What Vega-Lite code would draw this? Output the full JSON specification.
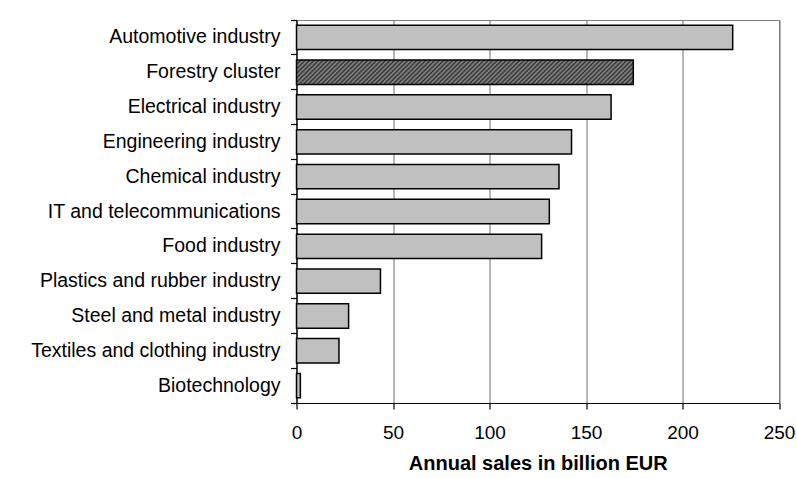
{
  "$schema": "https://vega.github.io/schema/vega-lite/v6.json",
  "autosize": "none",
  "width": 482.5,
  "height": 383,
  "padding": {"left": 296.5, "top": 20, "right": 18, "bottom": 75},
  "background": "white",
  "config": {
    "font": "Liberation Sans",
    "view": {"stroke": "#808080", "strokeWidth": 1}
  },
  "data": {
    "values": [
      {"sector": "Automotive industry", "sales": 226},
      {"sector": "Forestry cluster", "sales": 174.5},
      {"sector": "Electrical industry", "sales": 163},
      {"sector": "Engineering industry", "sales": 142.5},
      {"sector": "Chemical industry", "sales": 136},
      {"sector": "IT and telecommunications", "sales": 131},
      {"sector": "Food industry", "sales": 127},
      {"sector": "Plastics and rubber industry", "sales": 43.5},
      {"sector": "Steel and metal industry", "sales": 27},
      {"sector": "Textiles and clothing industry", "sales": 22},
      {"sector": "Biotechnology", "sales": 2}
    ]
  },
  "mark": {"type": "bar", "height": {"band": 0.7}, "stroke": "black", "strokeWidth": 1.5},
  "encoding": {
    "y": {
      "field": "sector",
      "type": "nominal",
      "sort": null,
      "scale": {"paddingInner": 0, "paddingOuter": 0},
      "axis": {
        "title": null,
        "labelFontSize": 19.5,
        "labelColor": "black",
        "labelPadding": 10.5,
        "labelLimit": 400,
        "domainColor": "black",
        "domainWidth": 1.2,
        "tickColor": "black",
        "tickWidth": 1.2,
        "tickSize": 6,
        "bandPosition": 1,
        "tickExtra": true,
        "grid": false
      }
    },
    "x": {
      "field": "sales",
      "type": "quantitative",
      "scale": {"domain": [0, 250], "nice": false},
      "axis": {
        "title": "Annual sales in billion EUR",
        "titleFontSize": 20,
        "titleFontWeight": "bold",
        "titleColor": "black",
        "titlePadding": 11,
        "values": [0, 50, 100, 150, 200, 250],
        "labelFontSize": 19,
        "labelColor": "black",
        "labelPadding": 14,
        "labelFlush": false,
        "domainColor": "black",
        "domainWidth": 1.2,
        "tickColor": "black",
        "tickWidth": 1.2,
        "tickSize": 6,
        "grid": true,
        "gridColor": "#707070",
        "gridOpacity": 1,
        "gridWidth": 1
      }
    },
    "fill": {
      "condition": {
        "test": "datum.sector === 'Forestry cluster'",
        "value": {
          "gradient": "linear",
          "x1": 0, "y1": 0, "x2": 1.1, "y2": 0.0796,
          "stops": [
            {"offset": 0, "color": "#303030"}, {"offset": 0.006, "color": "#8c8c8c"},
            {"offset": 0.012, "color": "#303030"}, {"offset": 0.018, "color": "#8c8c8c"},
            {"offset": 0.024, "color": "#303030"}, {"offset": 0.03, "color": "#8c8c8c"},
            {"offset": 0.036, "color": "#303030"}, {"offset": 0.042, "color": "#8c8c8c"},
            {"offset": 0.048, "color": "#303030"}, {"offset": 0.054, "color": "#8c8c8c"},
            {"offset": 0.06, "color": "#303030"}, {"offset": 0.066, "color": "#8c8c8c"},
            {"offset": 0.072, "color": "#303030"}, {"offset": 0.078, "color": "#8c8c8c"},
            {"offset": 0.084, "color": "#303030"}, {"offset": 0.09, "color": "#8c8c8c"},
            {"offset": 0.096, "color": "#303030"}, {"offset": 0.102, "color": "#8c8c8c"},
            {"offset": 0.108, "color": "#303030"}, {"offset": 0.114, "color": "#8c8c8c"},
            {"offset": 0.12, "color": "#303030"}, {"offset": 0.126, "color": "#8c8c8c"},
            {"offset": 0.132, "color": "#303030"}, {"offset": 0.138, "color": "#8c8c8c"},
            {"offset": 0.144, "color": "#303030"}, {"offset": 0.15, "color": "#8c8c8c"},
            {"offset": 0.156, "color": "#303030"}, {"offset": 0.162, "color": "#8c8c8c"},
            {"offset": 0.168, "color": "#303030"}, {"offset": 0.174, "color": "#8c8c8c"},
            {"offset": 0.18, "color": "#303030"}, {"offset": 0.186, "color": "#8c8c8c"},
            {"offset": 0.192, "color": "#303030"}, {"offset": 0.198, "color": "#8c8c8c"},
            {"offset": 0.204, "color": "#303030"}, {"offset": 0.21, "color": "#8c8c8c"},
            {"offset": 0.216, "color": "#303030"}, {"offset": 0.222, "color": "#8c8c8c"},
            {"offset": 0.228, "color": "#303030"}, {"offset": 0.234, "color": "#8c8c8c"},
            {"offset": 0.24, "color": "#303030"}, {"offset": 0.246, "color": "#8c8c8c"},
            {"offset": 0.252, "color": "#303030"}, {"offset": 0.258, "color": "#8c8c8c"},
            {"offset": 0.264, "color": "#303030"}, {"offset": 0.27, "color": "#8c8c8c"},
            {"offset": 0.276, "color": "#303030"}, {"offset": 0.282, "color": "#8c8c8c"},
            {"offset": 0.288, "color": "#303030"}, {"offset": 0.294, "color": "#8c8c8c"},
            {"offset": 0.3, "color": "#303030"}, {"offset": 0.306, "color": "#8c8c8c"},
            {"offset": 0.312, "color": "#303030"}, {"offset": 0.318, "color": "#8c8c8c"},
            {"offset": 0.324, "color": "#303030"}, {"offset": 0.33, "color": "#8c8c8c"},
            {"offset": 0.336, "color": "#303030"}, {"offset": 0.342, "color": "#8c8c8c"},
            {"offset": 0.348, "color": "#303030"}, {"offset": 0.354, "color": "#8c8c8c"},
            {"offset": 0.36, "color": "#303030"}, {"offset": 0.366, "color": "#8c8c8c"},
            {"offset": 0.372, "color": "#303030"}, {"offset": 0.378, "color": "#8c8c8c"},
            {"offset": 0.384, "color": "#303030"}, {"offset": 0.39, "color": "#8c8c8c"},
            {"offset": 0.396, "color": "#303030"}, {"offset": 0.402, "color": "#8c8c8c"},
            {"offset": 0.408, "color": "#303030"}, {"offset": 0.414, "color": "#8c8c8c"},
            {"offset": 0.42, "color": "#303030"}, {"offset": 0.426, "color": "#8c8c8c"},
            {"offset": 0.432, "color": "#303030"}, {"offset": 0.438, "color": "#8c8c8c"},
            {"offset": 0.444, "color": "#303030"}, {"offset": 0.45, "color": "#8c8c8c"},
            {"offset": 0.456, "color": "#303030"}, {"offset": 0.462, "color": "#8c8c8c"},
            {"offset": 0.468, "color": "#303030"}, {"offset": 0.474, "color": "#8c8c8c"},
            {"offset": 0.48, "color": "#303030"}, {"offset": 0.486, "color": "#8c8c8c"},
            {"offset": 0.492, "color": "#303030"}, {"offset": 0.498, "color": "#8c8c8c"},
            {"offset": 0.504, "color": "#303030"}, {"offset": 0.51, "color": "#8c8c8c"},
            {"offset": 0.516, "color": "#303030"}, {"offset": 0.522, "color": "#8c8c8c"},
            {"offset": 0.528, "color": "#303030"}, {"offset": 0.534, "color": "#8c8c8c"},
            {"offset": 0.54, "color": "#303030"}, {"offset": 0.546, "color": "#8c8c8c"},
            {"offset": 0.552, "color": "#303030"}, {"offset": 0.558, "color": "#8c8c8c"},
            {"offset": 0.564, "color": "#303030"}, {"offset": 0.57, "color": "#8c8c8c"},
            {"offset": 0.576, "color": "#303030"}, {"offset": 0.582, "color": "#8c8c8c"},
            {"offset": 0.588, "color": "#303030"}, {"offset": 0.594, "color": "#8c8c8c"},
            {"offset": 0.6, "color": "#303030"}, {"offset": 0.606, "color": "#8c8c8c"},
            {"offset": 0.612, "color": "#303030"}, {"offset": 0.618, "color": "#8c8c8c"},
            {"offset": 0.624, "color": "#303030"}, {"offset": 0.63, "color": "#8c8c8c"},
            {"offset": 0.636, "color": "#303030"}, {"offset": 0.642, "color": "#8c8c8c"},
            {"offset": 0.648, "color": "#303030"}, {"offset": 0.654, "color": "#8c8c8c"},
            {"offset": 0.66, "color": "#303030"}, {"offset": 0.666, "color": "#8c8c8c"},
            {"offset": 0.672, "color": "#303030"}, {"offset": 0.678, "color": "#8c8c8c"},
            {"offset": 0.684, "color": "#303030"}, {"offset": 0.69, "color": "#8c8c8c"},
            {"offset": 0.696, "color": "#303030"}, {"offset": 0.702, "color": "#8c8c8c"},
            {"offset": 0.708, "color": "#303030"}, {"offset": 0.714, "color": "#8c8c8c"},
            {"offset": 0.72, "color": "#303030"}, {"offset": 0.726, "color": "#8c8c8c"},
            {"offset": 0.732, "color": "#303030"}, {"offset": 0.738, "color": "#8c8c8c"},
            {"offset": 0.744, "color": "#303030"}, {"offset": 0.75, "color": "#8c8c8c"},
            {"offset": 0.756, "color": "#303030"}, {"offset": 0.762, "color": "#8c8c8c"},
            {"offset": 0.768, "color": "#303030"}, {"offset": 0.774, "color": "#8c8c8c"},
            {"offset": 0.78, "color": "#303030"}, {"offset": 0.786, "color": "#8c8c8c"},
            {"offset": 0.792, "color": "#303030"}, {"offset": 0.798, "color": "#8c8c8c"},
            {"offset": 0.804, "color": "#303030"}, {"offset": 0.81, "color": "#8c8c8c"},
            {"offset": 0.816, "color": "#303030"}, {"offset": 0.822, "color": "#8c8c8c"},
            {"offset": 0.828, "color": "#303030"}, {"offset": 0.834, "color": "#8c8c8c"},
            {"offset": 0.84, "color": "#303030"}, {"offset": 0.846, "color": "#8c8c8c"},
            {"offset": 0.852, "color": "#303030"}, {"offset": 0.858, "color": "#8c8c8c"},
            {"offset": 0.864, "color": "#303030"}, {"offset": 0.87, "color": "#8c8c8c"},
            {"offset": 0.876, "color": "#303030"}, {"offset": 0.882, "color": "#8c8c8c"},
            {"offset": 0.888, "color": "#303030"}, {"offset": 0.894, "color": "#8c8c8c"},
            {"offset": 0.9, "color": "#303030"}, {"offset": 0.906, "color": "#8c8c8c"},
            {"offset": 0.912, "color": "#303030"}, {"offset": 0.918, "color": "#8c8c8c"},
            {"offset": 0.924, "color": "#303030"}, {"offset": 0.93, "color": "#8c8c8c"},
            {"offset": 0.936, "color": "#303030"}, {"offset": 0.942, "color": "#8c8c8c"},
            {"offset": 0.948, "color": "#303030"}, {"offset": 0.954, "color": "#8c8c8c"},
            {"offset": 0.96, "color": "#303030"}, {"offset": 0.966, "color": "#8c8c8c"},
            {"offset": 0.972, "color": "#303030"}, {"offset": 0.978, "color": "#8c8c8c"},
            {"offset": 0.984, "color": "#303030"}, {"offset": 0.99, "color": "#8c8c8c"},
            {"offset": 0.996, "color": "#303030"}, {"offset": 1, "color": "#8c8c8c"}
          ]
        }
      },
      "value": "#c0c0c0"
    }
  }
}
